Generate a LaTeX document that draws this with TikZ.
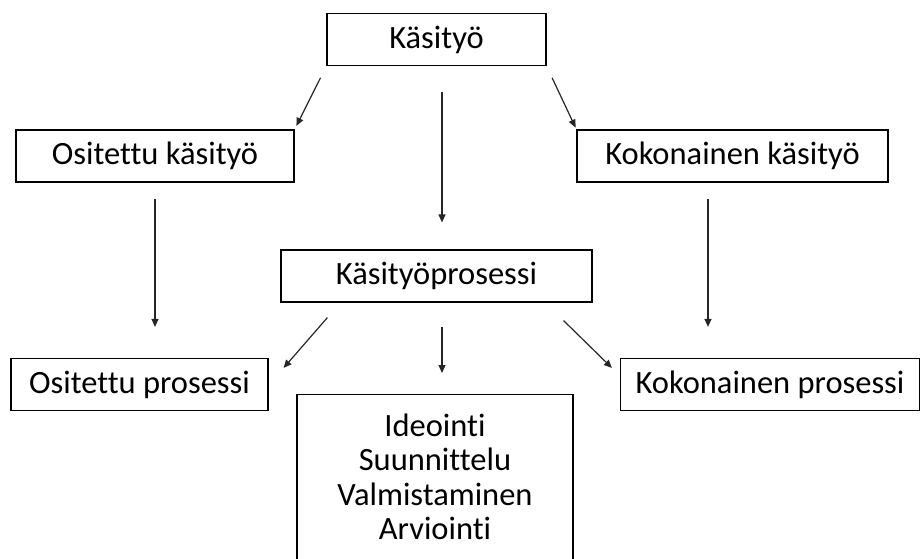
\documentclass[tikz,border=0pt]{standalone}
\usepackage{fontspec}
\setmainfont{Carlito}[Ligatures=NoCommon]
\usetikzlibrary{arrows.meta,positioning,calc}

\begin{document}
\begin{tikzpicture}[
  x=1pt, y=-1pt,
  box/.style={draw, line width=1.2pt, minimum height=52pt, inner sep=2pt,
              font=\fontsize{32.5}{34.5}\selectfont, align=center, text=black},
  arr/.style={-{Triangle[length=8pt,width=7pt]}, line width=1.2pt, black!85}
]
  \useasboundingbox (0,0) rectangle (921,558);
  \clip (0,0) rectangle (921,558);

  \node[box, minimum width=219pt] (kasityo)    at (436.5,39.5) {Käsityö};
  \node[box, minimum width=278pt] (ositettu)   at (155,156)    {Ositettu käsityö};
  \node[box, minimum width=311pt] (kokonainen) at (732.5,156)  {Kokonainen käsityö};
  \node[box, minimum width=311pt] (prosessi)   at (436.5,276)  {Käsityöprosessi};
  \node[box, minimum width=257pt] (osproc)     at (139.5,384.5) {Ositettu prosessi};
  \node[box, minimum width=299pt] (koproc)     at (770,384.5)  {Kokonainen prosessi};
  \node[box, minimum width=276pt, anchor=north, inner ysep=19pt] (tasks) at (435,394)
    {Ideointi\\Suunnittelu\\Valmistaminen\\Arviointi\\[20pt]\strut};

  \draw[arr, shorten <=13pt, shorten >=4pt] (kasityo.south west) -- (ositettu.north east);
  \draw[arr, shorten <=26pt, shorten >=27pt] ([xshift=5.5pt]kasityo.south) -- ([xshift=5.5pt]prosessi.north);
  \draw[arr, shorten <=13pt, shorten >=2pt] (kasityo.south east) -- (kokonainen.north west);

  \draw[arr, shorten <=16pt, shorten >=31pt] (ositettu.south) -- (ositettu.south |- osproc.north);
  \draw[arr, shorten <=16pt, shorten >=31pt] ([xshift=-24.5pt]kokonainen.south) -- ([xshift=-24.5pt]kokonainen.south |- koproc.north);

  \draw[arr] ([shift={(47,15)}]prosessi.south west) -- ([shift={(15,10)}]osproc.north east);
  \draw[arr] ([shift={(5.5,24)}]prosessi.south) -- ([shift={(7,-21)}]tasks.north);
  \draw[arr] ([shift={(-29,18)}]prosessi.south east) -- ([shift={(-8,10)}]koproc.north west);
\end{tikzpicture}
\end{document}
